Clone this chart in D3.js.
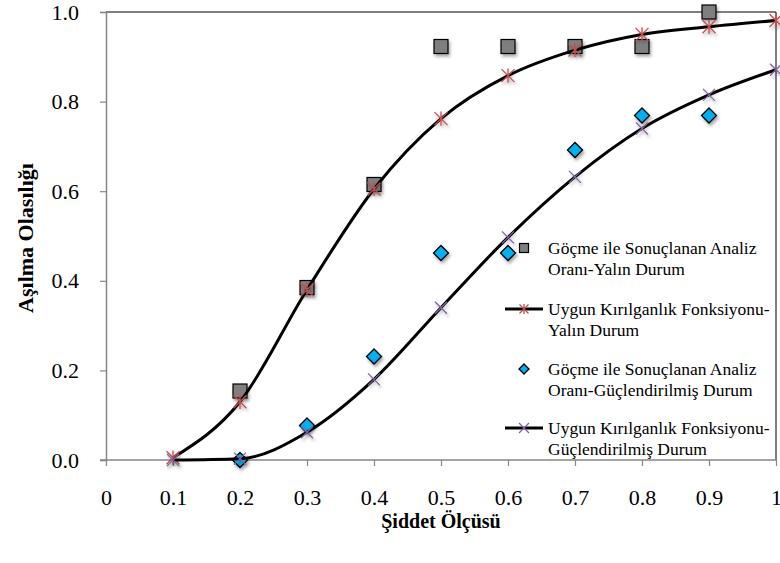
<!DOCTYPE html>
<html lang="tr">
<head>
  <meta charset="UTF-8">
  <title>Aşılma Olasılığı</title>
  <style>
    body { margin: 0; background: #fff; }
  </style>
  <script src="https://d3js.org/d3.v7.min.js"></script>
</head>
<body>
<div id="chart"></div>
<script>
  // ---- data ----
  const xFit = [0.1, 0.2, 0.3, 0.4, 0.5, 0.6, 0.7, 0.8, 0.9, 1.0];
  const fitYalin = [0.005, 0.13, 0.38, 0.605, 0.762, 0.858, 0.915, 0.95, 0.967, 0.981];
  const fitGuc = [0.0, 0.003, 0.062, 0.18, 0.34, 0.497, 0.632, 0.74, 0.815, 0.871];

  const xObs = [0.2, 0.3, 0.4, 0.5, 0.6, 0.7, 0.8, 0.9];
  const obsYalin = [0.154, 0.385, 0.615, 0.923, 0.923, 0.923, 0.923, 1.0];
  const obsGuc = [0.0, 0.077, 0.231, 0.462, 0.462, 0.692, 0.769, 0.769];

  const xTicks = [0, 0.1, 0.2, 0.3, 0.4, 0.5, 0.6, 0.7, 0.8, 0.9, 1];
  const yTicks = [0, 0.2, 0.4, 0.6, 0.8, 1.0];

  const legendLabels = [
    ["Göçme ile Sonuçlanan Analiz", "Oranı-Yalın Durum"],
    ["Uygun Kırılganlık Fonksiyonu-", "Yalın Durum"],
    ["Göçme ile Sonuçlanan Analiz", "Oranı-Güçlendirilmiş Durum"],
    ["Uygun Kırılganlık Fonksiyonu-", "Güçlendirilmiş Durum"]
  ];

  const FONT = "Liberation Serif";

  // ---- setup ----
  const W = 780, H = 563;
  const svg = d3.select("#chart").append("svg").attr("width", W).attr("height", H);

  const defs = svg.append("defs");
  const f = defs.append("filter").attr("id", "shadow")
    .attr("x", "-50%").attr("y", "-50%").attr("width", "200%").attr("height", "200%");
  f.append("feDropShadow").attr("dx", 1.5).attr("dy", 2.5).attr("stdDeviation", 1.5)
    .attr("flood-color", "#000").attr("flood-opacity", 0.35);

  const x = d3.scaleLinear().domain([0, 1]).range([106, 776]);
  const y = d3.scaleLinear().domain([0, 1]).range([460, 12]);

  // frame (top/right black)
  svg.append("path")
    .attr("d", `M${x(0)},${y(1)}H${x(1)}V${y(0)}`)
    .attr("fill", "none").attr("stroke", "#000").attr("stroke-width", 1);

  // axes
  const axisColor = "#868686";
  const yAxis = svg.append("g").attr("transform", `translate(${x(0)},0)`)
    .call(d3.axisLeft(y).tickValues(yTicks).tickSize(6).tickPadding(21).tickFormat(d3.format(".1f")));
  const xAxis = svg.append("g").attr("transform", `translate(0,${y(0)})`)
    .call(d3.axisBottom(x).tickValues(xTicks).tickSize(6).tickPadding(23).tickFormat(d => d3.format("")(d)));
  [xAxis, yAxis].forEach(a => {
    a.attr("font-family", FONT).attr("font-size", 22);
    a.select(".domain").attr("stroke", axisColor).attr("stroke-width", 1.5);
    a.selectAll(".tick line").attr("stroke", axisColor).attr("stroke-width", 1.2);
    a.selectAll(".tick text").attr("fill", "#000");
  });
  xAxis.select(".domain").attr("d", `M${x(0) - 6},0H${x(1)}`);

  // axis titles
  svg.append("text").attr("x", x(0.5)).attr("y", 528).attr("text-anchor", "middle")
    .attr("font-family", FONT).attr("font-weight", "bold").attr("font-size", 20).text("Şiddet Ölçüsü");
  svg.append("text").attr("transform", `translate(33,238) rotate(-90)`).attr("text-anchor", "middle")
    .attr("font-family", FONT).attr("font-weight", "bold").attr("font-size", 22).text("Aşılma Olasılığı");

  // ---- marker helpers ----
  const red = "#C0504D", purple = "#8064A2", cyan = "#00B0F0", grey = "#7F7F7F";

  function square(g, cx, cy, s, shadow) {
    g.append("rect").attr("x", cx - s / 2).attr("y", cy - s / 2).attr("width", s).attr("height", s)
      .attr("fill", grey).attr("stroke", "#000").attr("stroke-width", 1.2)
      .attr("filter", shadow ? "url(#shadow)" : null);
  }
  function diamond(g, cx, cy, s, shadow) {
    g.append("path").attr("d", `M${cx},${cy - s}L${cx + s},${cy}L${cx},${cy + s}L${cx - s},${cy}Z`)
      .attr("fill", cyan).attr("stroke", "#000").attr("stroke-width", 1.3)
      .attr("filter", shadow ? "url(#shadow)" : null);
  }
  function star(g, cx, cy, s, shadow) {
    g.append("path")
      .attr("d", `M${cx - s},${cy - s}L${cx + s},${cy + s}M${cx - s},${cy + s}L${cx + s},${cy - s}M${cx},${cy - s * 1.1}V${cy + s * 1.1}`)
      .attr("stroke", red).attr("stroke-width", 1.3).attr("fill", "none")
      .attr("filter", shadow ? "url(#shadow)" : null);
  }
  function cross(g, cx, cy, s, shadow) {
    g.append("path")
      .attr("d", `M${cx - s},${cy - s}L${cx + s},${cy + s}M${cx - s},${cy + s}L${cx + s},${cy - s}`)
      .attr("stroke", purple).attr("stroke-width", 1.3).attr("fill", "none")
      .attr("filter", shadow ? "url(#shadow)" : null);
  }

  const plot = svg.append("g");
  // monotone smoothing keeps the fitted lines from dipping under the axis
  const line = d3.line().x(d => x(d[0])).y(d => y(d[1])).curve(d3.curveMonotoneX);

  // observed squares
  xObs.forEach((v, i) => square(plot, x(v), y(obsYalin[i]), 14, true));
  // fitted Yalın
  plot.append("path").datum(xFit.map((v, i) => [v, fitYalin[i]])).attr("d", line)
    .attr("fill", "none").attr("stroke", "#000").attr("stroke-width", 3);
  xFit.forEach((v, i) => star(plot, x(v), y(fitYalin[i]), 6.5, true));
  // observed diamonds
  xObs.forEach((v, i) => diamond(plot, x(v), y(obsGuc[i]), 7.5, true));
  // fitted Güçlendirilmiş
  plot.append("path").datum(xFit.map((v, i) => [v, fitGuc[i]])).attr("d", line)
    .attr("fill", "none").attr("stroke", "#000").attr("stroke-width", 3);
  xFit.forEach((v, i) => cross(plot, x(v), y(fitGuc[i]), 6, true));

  // ---- legend ----
  const leg = svg.append("g");
  const legRows = [248, 309, 369, 428];
  const mx = 524;
  legRows.forEach((ry, i) => {
    if (i === 1 || i === 3) {
      leg.append("line").attr("x1", 505).attr("x2", 543).attr("y1", ry).attr("y2", ry)
        .attr("stroke", "#000").attr("stroke-width", 3);
    }
    if (i === 0) square(leg, mx, ry, 9, false);
    if (i === 1) star(leg, mx, ry, 4.5, false);
    if (i === 2) diamond(leg, mx, ry, 5, false);
    if (i === 3) cross(leg, mx, ry, 5, false);
    legendLabels[i].forEach((t, j) => {
      leg.append("text").attr("x", 548).attr("y", ry + 6 + j * 21)
        .attr("font-family", FONT).attr("font-size", 17.5).text(t);
    });
  });
</script>
</body>
</html>
